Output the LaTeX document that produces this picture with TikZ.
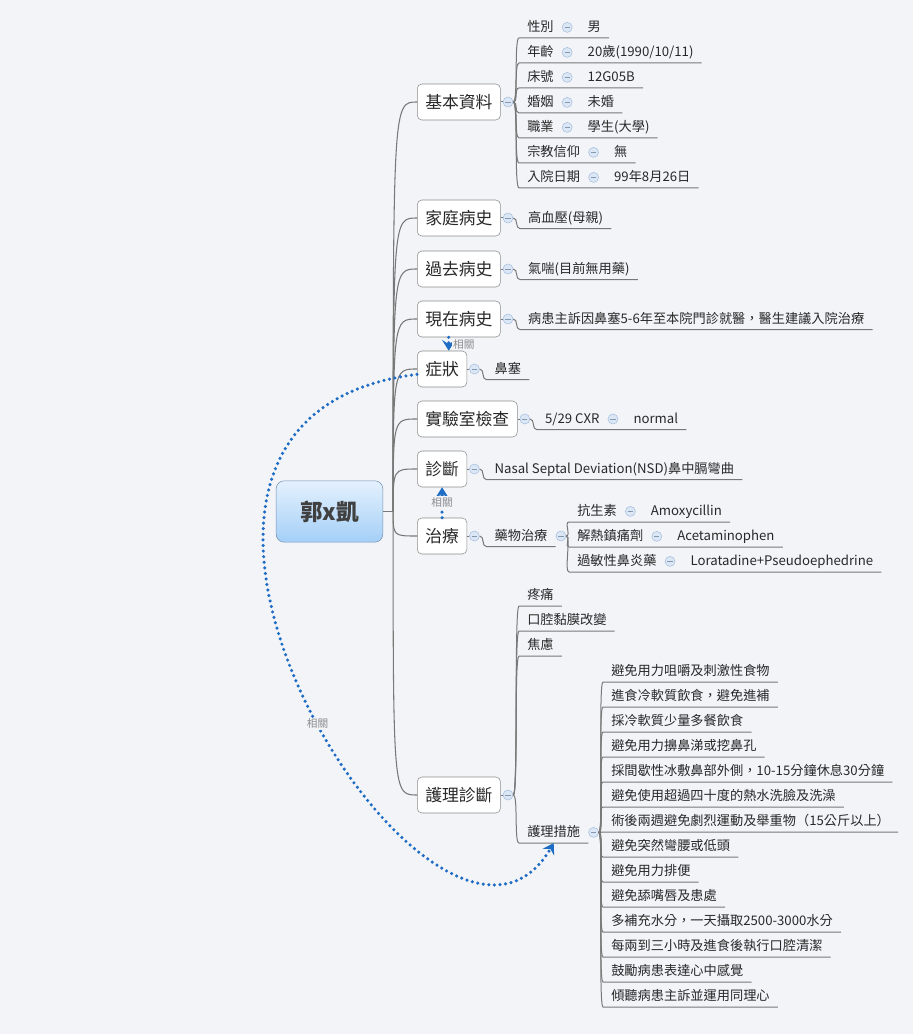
\documentclass[tikz,border=0pt]{standalone}
\usepackage{fontspec}
\setmainfont{Noto Sans CJK TC}
\usetikzlibrary{positioning,arrows.meta}

\definecolor{bgcol}{RGB}{242,244,248}
\definecolor{linecol}{RGB}{120,120,120}
\definecolor{boxline}{RGB}{140,140,140}
\definecolor{txtcol}{RGB}{40,40,40}
\definecolor{relblue}{RGB}{30,108,196}
\definecolor{foldfill}{RGB}{220,231,245}
\definecolor{folddraw}{RGB}{165,190,222}
\definecolor{rootline}{RGB}{115,145,180}
\definecolor{roottop}{RGB}{228,241,253}
\definecolor{rootbot}{RGB}{164,207,247}

\tikzset{
  root/.style={draw=rootline, rounded corners=6pt, top color=roottop, bottom color=rootbot,
    minimum width=80pt, minimum height=46pt, text=black!75,
    font=\fontsize{17}{20}\selectfont\bfseries},
  topic/.style={draw=boxline, fill=white, rounded corners=3.5pt, minimum height=27pt,
    inner xsep=6pt, text=txtcol, font=\fontsize{12.6}{15}\selectfont},
  leaf/.style={inner xsep=6pt, inner ysep=0pt, text height=11pt, text depth=4.5pt,
    text=txtcol, font=\fontsize{9.9}{12}\selectfont},
  fold/.style={circle, draw=folddraw, fill=foldfill, minimum size=7.5pt, inner sep=0pt,
    path picture={\draw[folddraw!80!black, line width=0.5pt]
      ([xshift=-2pt]path picture bounding box.center) -- ([xshift=2pt]path picture bounding box.center);}},
  branch/.style={draw=linecol, line width=0.8pt},
  twig/.style={draw=linecol, line width=0.75pt},
  rel/.style={draw=relblue, line width=2.6pt, line cap=round, dash pattern=on 0pt off 4.2pt,
    -{Stealth[length=8pt,width=10pt,inset=3pt]}},
  rellabel/.style={fill=bgcol, text=black!45, inner sep=1pt, font=\fontsize{8}{9}\selectfont}
}

\begin{document}
\begin{tikzpicture}[x=0.75pt, y=-0.75pt]
  % Background
  \fill[bgcol] (0,0) rectangle (913,1034);
  \useasboundingbox (0,0) rectangle (913,1034);

  % Root
  \node[root] (root) at (329.5,511.5) {郭x凱};
  \coordinate[right=7.5pt of root] (hub);
  \draw[branch] (root.east) -- (hub);

  % Main topics
  \node[topic, anchor=west] (basic) at (417,102) {基本資料};
  \node[topic, anchor=west] (family) at (417,218) {家庭病史};
  \node[topic, anchor=west] (past) at (417,269) {過去病史};
  \node[topic, anchor=west] (present) at (417,319) {現在病史};
  \node[topic, anchor=west] (symptom) at (417,369) {症狀};
  \node[topic, anchor=west] (lab) at (417,419) {實驗室檢查};
  \node[topic, anchor=west] (diag) at (417,469) {診斷};
  \node[topic, anchor=west] (treat) at (417,536) {治療};
  \node[topic, anchor=west] (nursing) at (417,795) {護理診斷};

  \foreach \t in {basic,family,past,present,symptom,lab,diag,treat,nursing} {
    \draw[branch] (hub) .. controls (hub |- \t.west) .. (\t.west);
    \node[fold, right=1.5pt of \t] (f-\t) {};
    \draw[twig] (\t.east) -- (f-\t.west);
  }

  % Basic data
  \foreach \k/\v [count=\i] in {性別/男, 年齡/{20歲(1990/10/11)}, 床號/12G05B, 婚姻/未婚,
      職業/學生(大學), 宗教信仰/無, 入院日期/99年8月26日} {
    \node[leaf, anchor=south west] (b\i) at (519,{13+25*\i}) {\k};
    \node[fold, right=0pt of b\i] (bf\i) {};
    \node[leaf, right=5.25pt of bf\i] (bv\i) {\v};
    \draw[twig] (f-basic.east) .. controls +(5,0) and +(-5,0) .. (b\i.south west) -- (bv\i.south east);
  }

  % Histories and symptom
  \node[leaf, right=5pt of f-family] (fam1) {高血壓(母親)};
  \node[leaf, right=5pt of f-past] (past1) {氣喘(目前無用藥)};
  \node[leaf, right=5pt of f-present] (pres1) {病患主訴因鼻塞5-6年至本院門診就醫，醫生建議入院治療};
  \node[leaf, right=5pt of f-symptom] (sym1) {鼻塞};
  \foreach \t/\c in {family/fam1, past/past1, present/pres1, symptom/sym1}
    \draw[twig] (f-\t.east) .. controls +(5,0) and +(-5,0) .. (\c.south west) -- (\c.south east);

  % Lab
  \node[leaf, right=5pt of f-lab] (lab1) {5/29 CXR};
  \node[fold, right=0pt of lab1] (lf1) {};
  \node[leaf, right=5.25pt of lf1] (lv1) {normal};
  \draw[twig] (f-lab.east) .. controls +(5,0) and +(-5,0) .. (lab1.south west) -- (lv1.south east);

  % Diagnosis
  \node[leaf, right=5pt of f-diag] (diag1) {Nasal Septal Deviation(NSD)鼻中膈彎曲};
  \draw[twig] (f-diag.east) .. controls +(5,0) and +(-5,0) .. (diag1.south west) -- (diag1.south east);

  % Treatment
  \node[leaf, right=5pt of f-treat] (med) {藥物治療};
  \node[fold, right=0pt of med] (f-med) {};
  \draw[twig] (f-treat.east) .. controls +(5,0) and +(-5,0) .. (med.south west) -- (med.south east);
  \draw[twig] (med.east) -- (f-med.west);
  \foreach \k/\v [count=\i] in {抗生素/Amoxycillin, 解熱鎮痛劑/Acetaminophen,
      過敏性鼻炎藥/Loratadine+Pseudoephedrine} {
    \node[leaf, anchor=south west] (d\i) at (569,{497+25*\i}) {\k};
    \node[fold, right=0pt of d\i] (df\i) {};
    \node[leaf, right=5.25pt of df\i] (dv\i) {\v};
    \draw[twig] (f-med.east) .. controls +(5,0) and +(-5,0) .. (d\i.south west) -- (dv\i.south east);
  }

  % Nursing diagnosis
  \foreach \s/\y [count=\i] in {疼痛/606, 口腔黏膜改變/631, 焦慮/656, 護理措施/843} {
    \node[leaf, anchor=south west] (n\i) at (519,\y) {\s};
    \draw[twig] (f-nursing.east) .. controls +(5,0) and +(-5,0) .. (n\i.south west) -- (n\i.south east);
  }
  \node[fold, right=0pt of n4] (f-care) {};
  \foreach \s [count=\i] in {避免用力咀嚼及刺激性食物, 進食冷軟質飲食，避免進補, 採冷軟質少量多餐飲食,
      避免用力擤鼻涕或挖鼻孔, 採間歇性冰敷鼻部外側，10-15分鐘休息30分鐘,
      避免使用超過四十度的熱水洗臉及洗澡, 術後兩週避免劇烈運動及舉重物（15公斤以上）,
      避免突然彎腰或低頭, 避免用力排便, 避免舔嘴唇及患處, 多補充水分，一天攝取2500-3000水分,
      每兩到三小時及進食後執行口腔清潔, 鼓勵病患表達心中感覺, 傾聽病患主訴並運用同理心} {
    \node[leaf, anchor=south west] (m\i) at (603,{657+25*\i}) {\s};
    \draw[twig] (f-care.east) .. controls +(5,0) and +(-5,0) .. (m\i.south west) -- (m\i.south east);
  }

  % Relationships
  \draw[rel] ([xshift=5pt]symptom.north |- present.south) -- node[rellabel, right=1pt] (r1) {相關}
    ([xshift=5pt]symptom.north);
  \draw[rel] (treat.north) -- node[rellabel] (r2) {相關} (diag.south);
  \draw[rel] ([yshift=-4pt]symptom.west) .. controls (50,420) and (440,1040) .. (n4.south)
    node[rellabel, pos=0.53] (r3) {相關};
\end{tikzpicture}
\end{document}
